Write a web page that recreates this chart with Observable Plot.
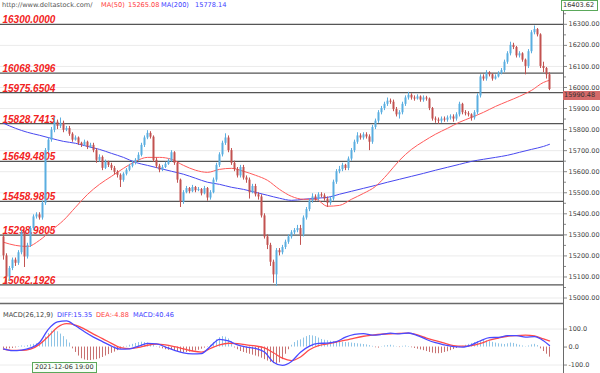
<!DOCTYPE html>
<html>
<head>
<meta charset="utf-8">
<script src="https://cdn.jsdelivr.net/npm/d3@7"></script>
<script src="https://cdn.jsdelivr.net/npm/@observablehq/plot@0.6"></script>
<style>
  body { margin: 0; background: #fff; }
  #wrap { position: relative; width: 600px; height: 373px; overflow: hidden; background: #fff; font-family: "DejaVu Sans", sans-serif; }
  #wrap svg { position: absolute; left: 0; }
  .t { position: absolute; font-size: 6.6px; white-space: nowrap; line-height: 8px; }
</style>
</head>
<body>
<div id="wrap"></div>
<script>
// ---------- data ----------
const firstOpen = 15290;
const closes = [
 15200,15100,15140,15180,15165,15215,15310,15195,15250,15330,
 15385,15395,15380,15450,15700,15750,15797,15835,15815,15830,
 15797,15805,15778,15750,15760,15735,15725,15740,15716,15725,
 15700,15654,15668,15616,15645,15630,15616,15597,15583,15559,
 15588,15607,15626,15640,15654,15678,15725,15760,15782,15764,
 15654,15626,15607,15620,15635,15650,15690,15640,15560,15455,
 15500,15520,15505,15525,15510,15515,15495,15520,15475,15500,
 15560,15630,15680,15735,15760,15700,15640,15610,15580,15620,
 15570,15560,15500,15530,15490,15480,15390,15290,15250,15170,
 15110,15225,15215,15240,15265,15290,15310,15320,15330,15300,
 15380,15420,15460,15480,15470,15490,15485,15470,15450,15470,
 15550,15600,15610,15630,15615,15660,15700,15740,15770,15760,
 15775,15765,15740,15810,15840,15880,15900,15920,15935,15930,
 15895,15870,15880,15920,15950,15963,15950,15945,15955,15940,
 15950,15945,15900,15850,15845,15840,15850,15845,15855,15860,
 15850,15870,15920,15880,15875,15870,15855,15880,15960,16050,
 16040,16070,16060,16040,16050,16065,16080,16120,16160,16200,
 16190,16150,16160,16130,16100,16170,16260,16275,16250,16100,
 16090,16060,15990.48
];
const highs = [
 15300,15210,15150,15190,15190,15225,15320,15315,15260,15340,
 15395,15405,15405,15460,15710,15760,15810,15858,15845,15855,
 15840,15815,15815,15785,15770,15765,15740,15750,15745,15735,
 15735,15710,15680,15675,15655,15650,15640,15625,15605,15590,
 15595,15615,15635,15650,15662,15690,15735,15770,15795,15790,
 15770,15665,15635,15630,15645,15660,15700,15695,15645,15565,
 15510,15530,15525,15535,15530,15525,15520,15530,15525,15510,
 15570,15640,15690,15745,15780,15770,15710,15650,15620,15630,
 15630,15580,15570,15540,15540,15500,15490,15400,15300,15260,
 15180,15235,15235,15250,15275,15300,15320,15330,15345,15345,
 15390,15430,15470,15495,15490,15500,15500,15495,15480,15480,
 15560,15610,15625,15640,15635,15670,15710,15750,15785,15780,
 15785,15785,15775,15820,15850,15890,15910,15930,15950,15945,
 15940,15905,15890,15930,15960,15977,15970,15960,15965,15960,
 15960,15958,15950,15905,15860,15855,15860,15860,15865,15870,
 15870,15880,15930,15925,15890,15885,15875,15890,15970,16060,
 16060,16080,16075,16065,16060,16075,16090,16130,16170,16215,
 16210,16195,16170,16165,16135,16180,16270,16292,16280,16255,
 16120,16095,16070
];
const lows = [
 15180,15062,15080,15130,15150,15155,15205,15145,15185,15240,
 15320,15375,15370,15370,15440,15690,15740,15785,15800,15805,
 15785,15790,15768,15740,15745,15725,15715,15720,15705,15710,
 15690,15640,15645,15605,15610,15620,15605,15585,15570,15525,
 15550,15580,15600,15618,15632,15648,15670,15715,15752,15755,
 15645,15615,15595,15600,15615,15630,15645,15630,15545,15430,
 15445,15495,15495,15500,15500,15505,15485,15490,15460,15465,
 15495,15550,15620,15670,15725,15690,15630,15600,15570,15570,
 15560,15545,15470,15495,15480,15465,15380,15280,15230,15150,
 15070,15055,15200,15205,15230,15255,15280,15300,15310,15250,
 15290,15370,15410,15450,15460,15460,15475,15460,15430,15440,
 15460,15540,15590,15600,15605,15605,15650,15690,15730,15750,
 15750,15755,15700,15730,15800,15830,15870,15890,15910,15920,
 15885,15860,15850,15870,15910,15940,15940,15935,15940,15930,
 15930,15935,15890,15840,15830,15825,15830,15835,15835,15845,
 15835,15840,15860,15870,15865,15860,15840,15845,15870,15950,
 16030,16030,16050,16030,16035,16045,16060,16070,16110,16150,
 16180,16140,16140,16120,16060,16090,16160,16250,16240,16090,
 16070,16040,15985
];
const maStep = 4;
const ma50 = [
 15265,15250,15245,15274,15322,15369,15431,15492,15540,15578,
 15616,15649,15668,15668,15659,15630,15607,15597,15611,15616,
 15602,15583,15559,15516,15483,15469,15469,15436,15440,15469,
 15497,15530,15588,15654,15706,15744,15778,15806,15835,15858,
 15882,15910,15934,15958,15986,16024,16034
];
const ma200 = [
 15830,15806,15787,15773,15758,15744,15735,15720,15706,15687,
 15668,15644,15630,15616,15602,15588,15569,15550,15540,15526,
 15516,15502,15488,15474,15464,15469,15474,15478,15493,15507,
 15521,15535,15550,15564,15578,15592,15607,15621,15635,15649,
 15659,15668,15678,15692,15706,15720,15730
];
const fibLevels = [16300, 16068.3096, 15975.6504, 15828.7413, 15649.4805, 15458.9805, 15298.9805, 15062.1926];
const priceTicks = [15000,15100,15200,15300,15400,15500,15600,15700,15800,15900,16000,16100,16200,16300];
const priceMinorTicks = [15050,15150,15250,15350,15450,15550,15650,15750,15850,15950,16050,16150,16250,16350];
const priceTop = 16403.62;
const priceBottom = 14974;

const macdStep = 3;
const diffLine = [
 -10,-20,-17,-5,25,100,140,146,118,85,
 55,30,5,-12,-10,5,20,18,0,-18,
 -33,-38,-36,5,43,34,12,0,-8,-28,
 -84,-102,-80,-29,5,20,22,30,55,70,
 75,66,70,77,73,78,64,42,24,12,
 2,0,12,35,52,54,63,64,55,58,
 35,8
];
const deaLine = [
 -12,-19,-19,-12,15,60,110,130,122,100,
 72,47,20,-3,-9,-2,10,16,12,2,
 -10,-22,-28,-8,12,21,19,12,6,-5,
 -32,-62,-75,-55,-15,8,18,28,38,50,
 60,66,71,74,76,77,68,50,36,22,
 8,5,8,20,38,50,60,64,66,62,
 45,34
];
const histogram = [
 -8,-12,-10,-8,-5,3,6,4,8,12,
 15,18,20,30,55,75,88,92,85,72,
 58,40,22,-10,-30,-50,-65,-72,-75,-75,
 -72,-70,-65,-58,-50,-42,-35,-28,-20,-12,
 -4,4,10,15,20,25,27,25,22,18,
 10,2,-5,-10,-15,-18,-18,-20,-25,-30,
 -32,-30,-28,-25,-22,-18,-12,-6,-2,10,
 25,40,52,58,55,45,30,-5,-15,-25,
 -30,-35,-40,-45,-50,-55,-62,-70,-78,-85,
 -92,-95,-88,-70,-40,-15,10,25,35,40,
 50,58,64,62,58,50,42,38,35,32,
 30,30,28,26,25,24,22,20,18,16,
 14,12,8,4,-4,-6,2,6,8,10,
 6,2,-3,4,6,3,-4,-8,-12,-16,
 -20,-25,-30,-34,-37,-37,-35,-30,-26,-20,
 -14,-8,-3,4,10,15,20,25,30,34,
 36,34,30,26,22,18,16,14,18,22,
 20,15,10,6,2,6,12,15,8,-10,
 -25,-40,-56
];
const macdTicks = [-100, 0, 100];
const macdTop = 242, macdBottom = -147;

const headerTexts = ["http://www.deltastock.com/", "MA(50)", "15265.08", "MA(200)", "15778.14"];
const macdTexts = ["MACD(26,12,9)", "DIFF:15.35", "DEA:-4.88", "MACD:40.46"];
const cursorDate = "2021-12-06 19:00";

// ---------- derived ----------
const N = closes.length;
const idx = d3.range(N);
const opens = closes.map((c, i) => i === 0 ? firstOpen : closes[i - 1]);
const UP = "#5aaee0", DOWN = "#c25250";
const candleColor = i => closes[i] >= opens[i] ? UP : DOWN;
const xDomain = [-1, 186.67];
const lastIdx = N - 1;

const wrap = document.getElementById("wrap");

const price = Plot.plot({
  width: 600, height: 303,
  marginTop: 2, marginBottom: 0, marginLeft: 0, marginRight: 37,
  x: {domain: xDomain, axis: null},
  y: {domain: [priceBottom, priceTop], axis: null},
  style: {fontFamily: "DejaVu Sans, sans-serif", fontSize: "6.5px", color: "#444", background: "transparent", overflow: "visible"},
  marks: [
    Plot.ruleY(priceTicks, {stroke: "#ebebeb", strokeWidth: 1}),
    Plot.ruleY(fibLevels, {stroke: "#555", strokeWidth: 1.3}),
    Plot.text(fibLevels, {x: xDomain[0], y: d => d, text: d => d.toFixed(4), textAnchor: "start", lineAnchor: "bottom", dx: 2, dy: -1,
      fill: "#f22222", fontFamily: "Liberation Sans, Arial, sans-serif", fontWeight: "bold", fontStyle: "italic", fontSize: 10}),
    Plot.line(ma200, {x: (d, k) => Math.min(k * maStep, lastIdx), y: d => d, stroke: "#4848f0", strokeWidth: 1, curve: "monotone-x"}),
    Plot.line(ma50, {x: (d, k) => Math.min(k * maStep, lastIdx), y: d => d, stroke: "#ff5a5a", strokeWidth: 1, curve: "monotone-x"}),
    Plot.ruleX(idx, {x: d => d, y1: d => lows[d], y2: d => highs[d], stroke: candleColor, strokeWidth: 1}),
    Plot.ruleX(idx, {x: d => d, y1: d => opens[d], y2: d => closes[d], stroke: candleColor, strokeWidth: 2}),
    Plot.ruleX([xDomain[1]], {stroke: "#6a6a6a", strokeWidth: 1}),
    Plot.axisY(priceMinorTicks, {anchor: "right", tickSize: 2, tickFormat: () => "", stroke: "#888"}),
    Plot.axisY(priceTicks, {anchor: "right", tickSize: 3, tickPadding: 2, tickFormat: d => d.toFixed(2), stroke: "#888", fill: "#444"})
  ]
});
price.style.top = "0px";
wrap.appendChild(price);

const macd = Plot.plot({
  width: 600, height: 70,
  marginTop: 0, marginBottom: 0, marginLeft: 0, marginRight: 37,
  x: {domain: xDomain, axis: null},
  y: {domain: [macdBottom, macdTop], axis: null},
  style: {fontFamily: "DejaVu Sans, sans-serif", fontSize: "6.5px", color: "#444", background: "transparent", overflow: "visible"},
  marks: [
    Plot.ruleY([100, -100], {stroke: "#ececec"}),
    Plot.ruleX(idx, {x: d => d, y1: 0, y2: d => histogram[d], stroke: d => histogram[d] >= 0 ? "#8ec4e6" : "#c87070", strokeWidth: 1}),
    Plot.line(deaLine, {x: (d, k) => Math.min(k * macdStep, lastIdx), y: d => d, stroke: "#ff4a4a", strokeWidth: 1.3, curve: "monotone-x"}),
    Plot.line(diffLine, {x: (d, k) => Math.min(k * macdStep, lastIdx), y: d => d, stroke: "#4a4aff", strokeWidth: 1.3, curve: "monotone-x"}),
    Plot.ruleX([xDomain[1]], {stroke: "#6a6a6a"}),
    Plot.ruleY([macdTop], {stroke: "#6a6a6a", strokeWidth: 1.5}),
    Plot.axisY(macdTicks, {anchor: "right", tickSize: 3, tickPadding: 2, tickFormat: d => d.toFixed(1), stroke: "#888", fill: "#444"})
  ]
});
macd.style.top = "303px";
wrap.appendChild(macd);

// ---------- overlays (text) ----------
function addText(txt, left, top, color, extra) {
  const el = document.createElement("div");
  el.className = "t";
  el.textContent = txt;
  el.style.left = left + "px";
  el.style.top = top + "px";
  el.style.color = color;
  if (extra) Object.assign(el.style, extra);
  wrap.appendChild(el);
  return el;
}
addText(headerTexts[0], 2, 1, "#555");
addText(headerTexts[1], 101, 1, "#ff3c3c");
addText(headerTexts[2], 128, 1, "#ff3c3c");
addText(headerTexts[3], 161, 1, "#3c3cff");
addText(headerTexts[4], 195, 1, "#3c3cff");

addText(macdTexts[0], 3, 311, "#444");
addText(macdTexts[1], 57, 311, "#3c3cff");
addText(macdTexts[2], 96, 311, "#ff3c3c");
addText(macdTexts[3], 133, 311, "#3c3cff");

// price boxes on the right axis
const ys = price.scale("y");
addText(priceTop.toFixed(2), 561, 0, "#333", {border: "1px solid #5aa85a", background: "#fff", width: "34px", height: "9px", lineHeight: "9px", paddingLeft: "1px", fontSize: "6.5px"});
const lastY = ys.apply(closes[lastIdx]);
addText(closes[lastIdx].toFixed(2), 563, Math.round(lastY + 2), "#333", {background: "#d56a6a", width: "36px", height: "9px", lineHeight: "9px", paddingLeft: "1px", fontSize: "6.5px"});

// cursor date box
addText(cursorDate, 32, 362, "#333", {border: "1px solid #5aa85a", background: "#f7fff7", height: "9px", lineHeight: "9px", padding: "0 2px", fontSize: "6.5px"});
</script>
</body>
</html>
